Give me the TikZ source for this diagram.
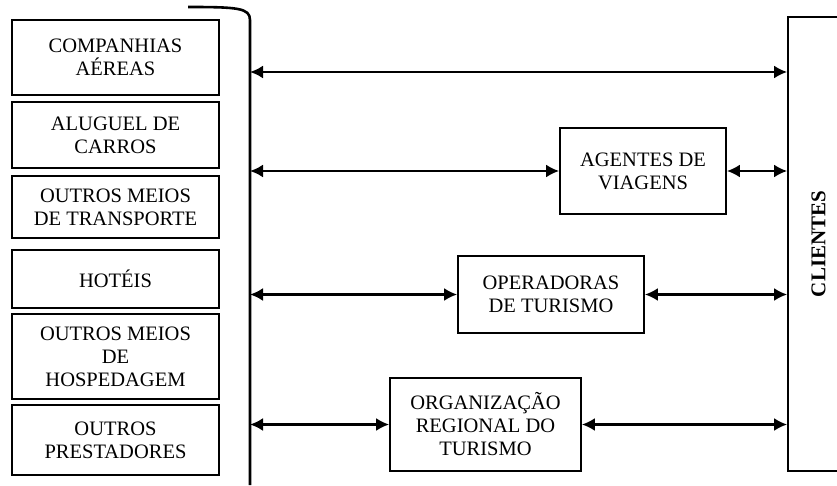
\documentclass[tikz,border=0pt]{standalone}
\usepackage{fontspec}
\setmainfont{Liberation Serif}
\usetikzlibrary{arrows.meta}
\tikzset{>={Latex[length=13pt, width=13pt]},
         prestador/.style = {draw, line width=1.8pt, minimum width=207pt, align=center, inner sep=0pt},
         canal/.style = {draw, line width=1.8pt, align=center, inner sep=0pt},
         fluxo/.style = {<->, line width=2.2pt}}

\begin{document}
\begin{tikzpicture}[x=1pt, y=-1pt, font=\fontsize{20.5}{23}\selectfont]
    \useasboundingbox (0, 0) rectangle (837, 486);

    \node [prestador, minimum height=75pt] (aereas) at (115.5, 57.5) {COMPANHIAS\\AÉREAS};
    \node [prestador, minimum height=66pt] (carros) at (115.5, 135) {ALUGUEL DE\\CARROS};
    \node [prestador, minimum height=62pt] (transporte) at (115.5, 207) {OUTROS MEIOS\\DE TRANSPORTE};
    \node [prestador, minimum height=58pt] (hoteis) at (115.5, 279) {HOTÉIS};
    \node [prestador, minimum height=85pt] (hospedagem) at (115.5, 356.5) {OUTROS MEIOS\\DE\\HOSPEDAGEM};
    \node [prestador, minimum height=70pt] (outros) at (115.5, 440) {OUTROS\\PRESTADORES};

    \draw [line width=2.6pt] (188, 7) .. controls (238, 7) and (250, 8) .. (250, 20) -- (250, 485);
    \coordinate (t1) at (250, 72);
    \coordinate (t2) at (250, 171);
    \coordinate (t3) at (250, 294.5);
    \coordinate (t4) at (250, 424.5);

    \node [canal, minimum width=166pt, minimum height=86pt] (agentes) at (643, 171) {AGENTES DE\\VIAGENS};
    \node [canal, minimum width=186pt, minimum height=77pt] (operadoras) at (551, 294.5) {OPERADORAS\\DE TURISMO};
    \node [canal, minimum width=191pt, minimum height=93pt] (regional) at (485.5, 424.5) {ORGANIZAÇÃO\\REGIONAL DO\\TURISMO};
    \node [canal, minimum width=62pt, minimum height=454pt] (clientes) at (819, 244) {};
    \node [rotate=90, font=\fontsize{21}{23}\selectfont\bfseries] (rotulo) at (818.5, 244) {CLIENTES};

    \draw [fluxo] (t1) -- (t1 -| clientes.west);
    \draw [fluxo] (t2) -- (agentes.west);
    \draw [fluxo] (agentes.east) -- (agentes.east -| clientes.west);
    \draw [fluxo] (t3) -- (operadoras.west);
    \draw [fluxo] (operadoras.east) -- (operadoras.east -| clientes.west);
    \draw [fluxo] (t4) -- (regional.west);
    \draw [fluxo] (regional.east) -- (regional.east -| clientes.west);
\end{tikzpicture}
\end{document}
